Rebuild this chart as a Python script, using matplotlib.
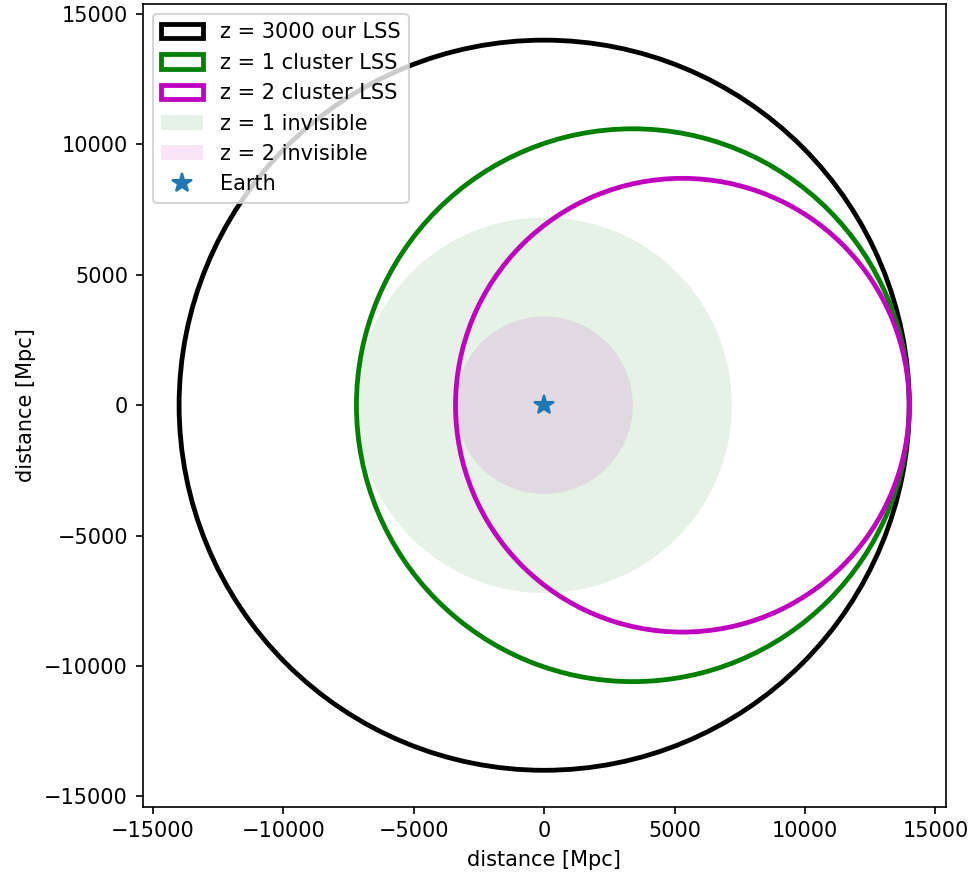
import matplotlib
matplotlib.use('Agg')
from matplotlib import pyplot as plt
from matplotlib.patches import Circle

# comoving distances [Mpc]
lss_radius = 14000
cluster_z = [1, 2]
cluster_dist = [3400, 5300]
ring_colors = ['g', 'm']

fig = plt.figure(figsize=(970/150, 879/150), dpi=150)
ax = fig.add_axes([0.147, 0.081, 0.828, 0.916])

ax.add_patch(Circle((0, 0), lss_radius, fill=False, edgecolor='k', lw=2.3,
                    label='z = 3000 our LSS', zorder=2))
for z, d, c in zip(cluster_z, cluster_dist, ring_colors):
    ax.add_patch(Circle((d, 0), lss_radius - d, fill=False, edgecolor=c, lw=2.3,
                        label=f'z = {z} cluster LSS', zorder=3))
for z, d, c in zip(cluster_z, cluster_dist, ring_colors):
    ax.add_patch(Circle((0, 0), lss_radius - 2*d, color=c, alpha=0.1, lw=0,
                        label=f'z = {z} invisible', zorder=1))

ax.plot(0, 0, '*', markersize=10, color='tab:blue', label='Earth', zorder=4)

lim = lss_radius * 1.1
ax.set_xlim(-lim, lim)
ax.set_ylim(-lim, lim)
ax.set_aspect('equal')
ax.set_xlabel('distance [Mpc]')
ax.set_ylabel('distance [Mpc]')
ax.legend(loc='upper left')

plt.savefig('out.png', dpi=150)
